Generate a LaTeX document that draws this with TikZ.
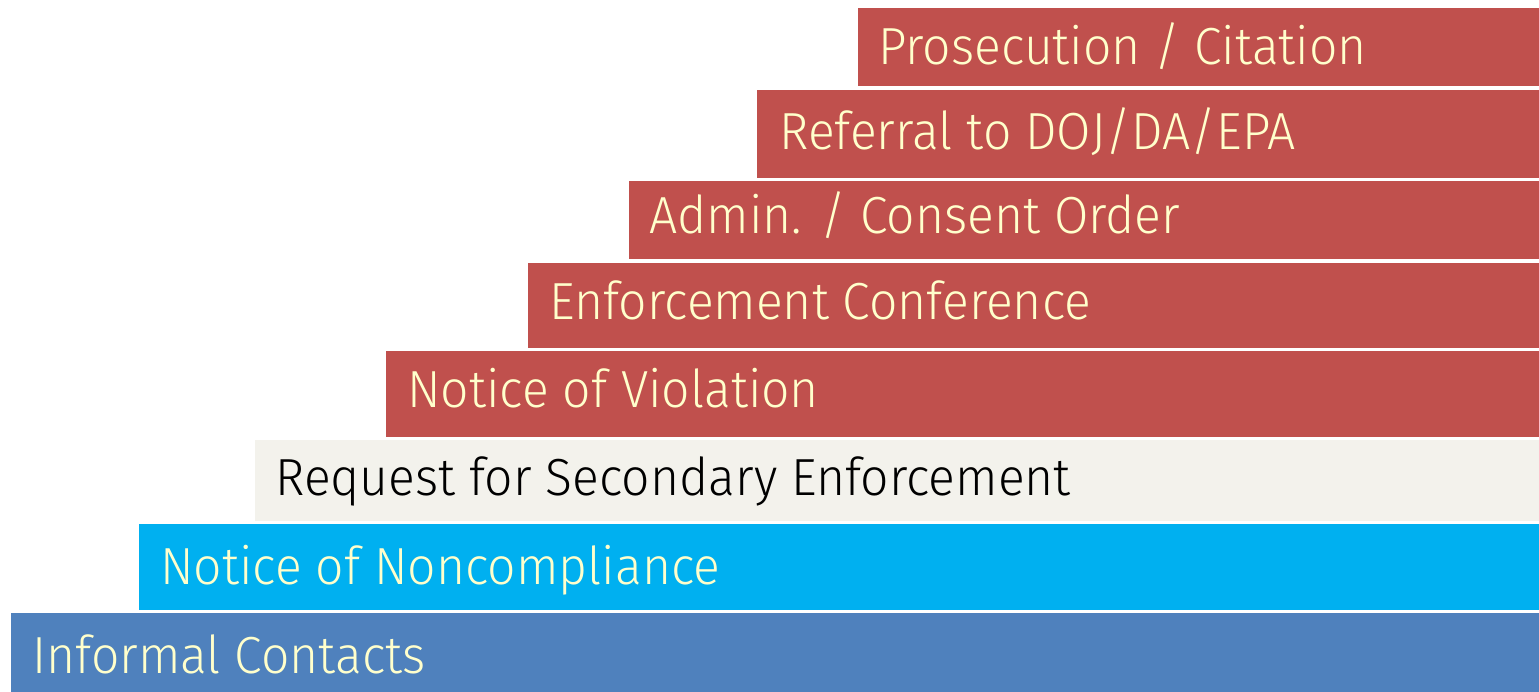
\documentclass[tikz,border=0pt]{standalone}
\usepackage{fontspec}
\setmainfont{Fira Sans}[UprightFont=* Light,FakeStretch=0.955]
\usepackage{tikz}

\definecolor{stepred}{HTML}{C0504D}
\definecolor{stepcyan}{HTML}{00B0F0}
\definecolor{stepblue}{HTML}{4F81BD}
\definecolor{stepbeige}{HTML}{F3F2EC}
\definecolor{stepcream}{HTML}{FFFFCC}

\begin{document}
\begin{tikzpicture}[
    x=0.02cm, y=-0.02cm,
    steplabel/.style={anchor=base west,inner sep=0pt,text=stepcream,
      font=\fontsize{29.7}{36}\selectfont},
    ]
    \useasboundingbox (0,0) rectangle (1539,692);
    % the staircase, top step first
    \fill[stepred] (858,8) rectangle (1539,86);
    \fill[stepred] (757,90) rectangle (1539,178);
    \fill[stepred] (629,181) rectangle (1539,259);
    \fill[stepred] (528,263) rectangle (1539,348);
    \fill[stepred] (386,351) rectangle (1539,437);
    \fill[stepbeige] (255,440) rectangle (1539,521);
    \fill[stepcyan] (139,524) rectangle (1539,610);
    \fill[stepblue] (11,613) rectangle (1539,692);
    % labels
    \node[steplabel] (prosecution) at (878,65) {Prosecution / Citation};
    \node[steplabel] (referral) at (779,150) {Referral to DOJ/DA/EPA};
    \node[steplabel] (admin) at (649,234) {Admin. / Consent Order};
    \node[steplabel] (conference) at (549,320) {Enforcement Conference};
    \node[steplabel] (nov) at (407,408) {Notice of Violation};
    \node[steplabel,text=black] (request) at (275,496) {Request for Secondary Enforcement};
    \node[steplabel] (noncompliance) at (160,584) {Notice of Noncompliance};
    \node[steplabel] (informal) at (32,673) {Informal Contacts};
  \end{tikzpicture}
\end{document}
